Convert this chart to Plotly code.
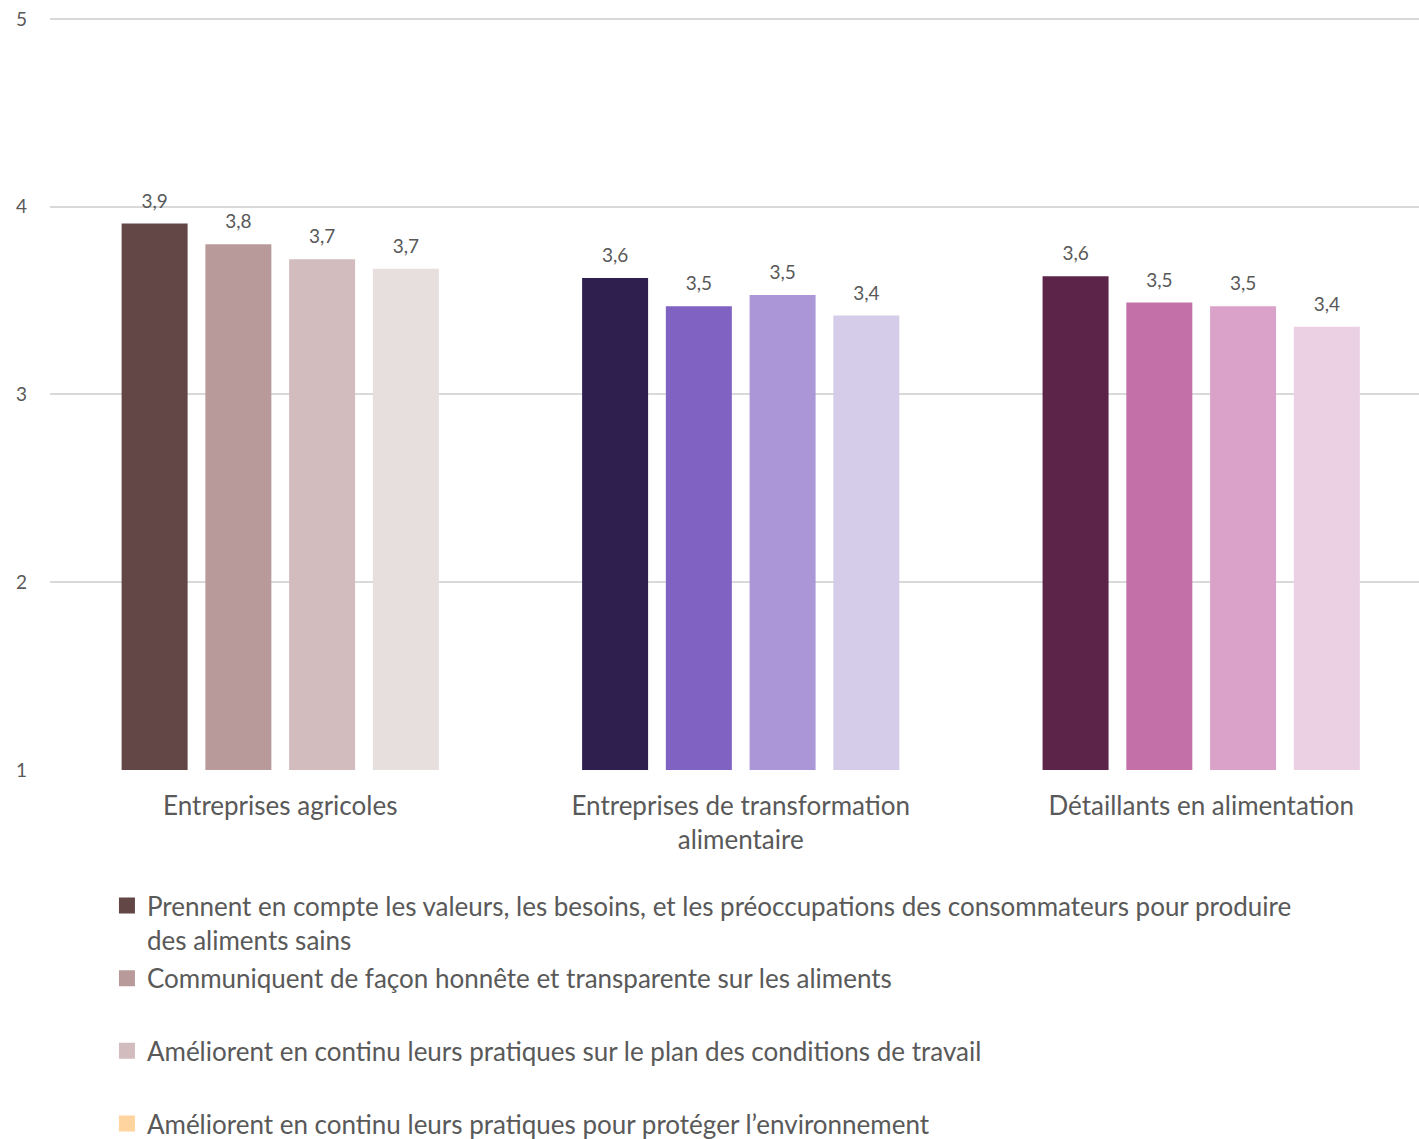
import plotly.graph_objects as go

categories = ["Entreprises agricoles", "Entreprises de transformation<br>alimentaire", "Détaillants en alimentation"]
series_names = [
    "Prennent en compte les valeurs, les besoins, et les préoccupations des consommateurs pour produire<br>des aliments sains",
    "Communiquent de façon honnête et transparente sur les aliments<br> ",
    "Améliorent en continu leurs pratiques sur le plan des conditions de travail<br> ",
    "Améliorent en continu leurs pratiques pour protéger l’environnement",
]
s1 = [3.91, 3.62, 3.63]
s2 = [3.80, 3.47, 3.49]
s3 = [3.72, 3.53, 3.47]
s4 = [3.67, 3.42, 3.36]
values = [s1, s2, s3, s4]
y_ticks = [1, 2, 3, 4, 5]

bar_colors = [
    ["#634646", "#2E1F4F", "#5C2449"],
    ["#B99A9A", "#7F62C2", "#C370A8"],
    ["#D3BCBD", "#AB97D8", "#DAA2C8"],
    ["#E7DEDE", "#D5CCEA", "#EBD0E4"],
]
legend_colors = ["#634646", "#B99A9A", "#D3BCBD", "#FFD49E"]

FONT = "Lato, 'Open Sans', sans-serif"
GREY = "#595959"

fig = go.Figure()
for i, vals in enumerate(values):
    fig.add_trace(go.Bar(
        x=categories, y=vals, marker=dict(color=bar_colors[i], line=dict(width=0)),
        offsetgroup=str(i), alignmentgroup="a",
        showlegend=False, hoverinfo="y",
    ))
# value labels, grouped to align with the bars
for i, vals in enumerate(values):
    fig.add_trace(go.Scatter(
        x=categories, y=vals, mode="markers+text",
        texttemplate="%{y:.1f}", textposition="top center",
        textfont=dict(size=19, color=GREY, family=FONT),
        marker=dict(size=16, opacity=0),
        offsetgroup=str(i), alignmentgroup="a",
        cliponaxis=False, showlegend=False, hoverinfo="skip",
    ))
for i, name in enumerate(series_names):
    fig.add_trace(go.Scatter(
        x=[None], y=[None], mode="markers", name=name, legendgroup=f"g{i}",
        marker=dict(symbol="square", size=16, color=legend_colors[i]),
    ))

fig.update_layout(
    width=1419, height=1139, autosize=False,
    margin=dict(l=50, r=0, t=17, b=369, autoexpand=False),
    plot_bgcolor="white", paper_bgcolor="white",
    separators=", ",
    barmode="group", bargap=0.2725, bargroupgap=0.212,
    scattermode="group", scattergap=0.2725,
    font=dict(family=FONT, color=GREY),
    showlegend=True,
    legend=dict(
        orientation="v", x=0.0416, xanchor="left", y=-0.149, yanchor="top",
        font=dict(size=26, color=GREY, family=FONT),
        tracegroupgap=2, valign="top",
        bgcolor="rgba(0,0,0,0)",
    ),
    xaxis=dict(
        range=[-0.5, 2.473],
        showgrid=False, showline=False, ticks="", ticklabelstandoff=18,
        tickfont=dict(size=26, color=GREY, family=FONT),
    ),
    yaxis=dict(
        range=[1, 5.01], tickvals=y_ticks, showgrid=True,
        gridcolor="#D9D9D9", gridwidth=1.5, zeroline=False, showline=False,
        ticks="", ticklabelstandoff=22, ticklabeloverflow="allow",
        tickfont=dict(size=19, color=GREY, family=FONT),
    ),
)

fig.write_html("out.html", config={"displayModeBar": False},
               post_script="document.body.style.margin='0';")
